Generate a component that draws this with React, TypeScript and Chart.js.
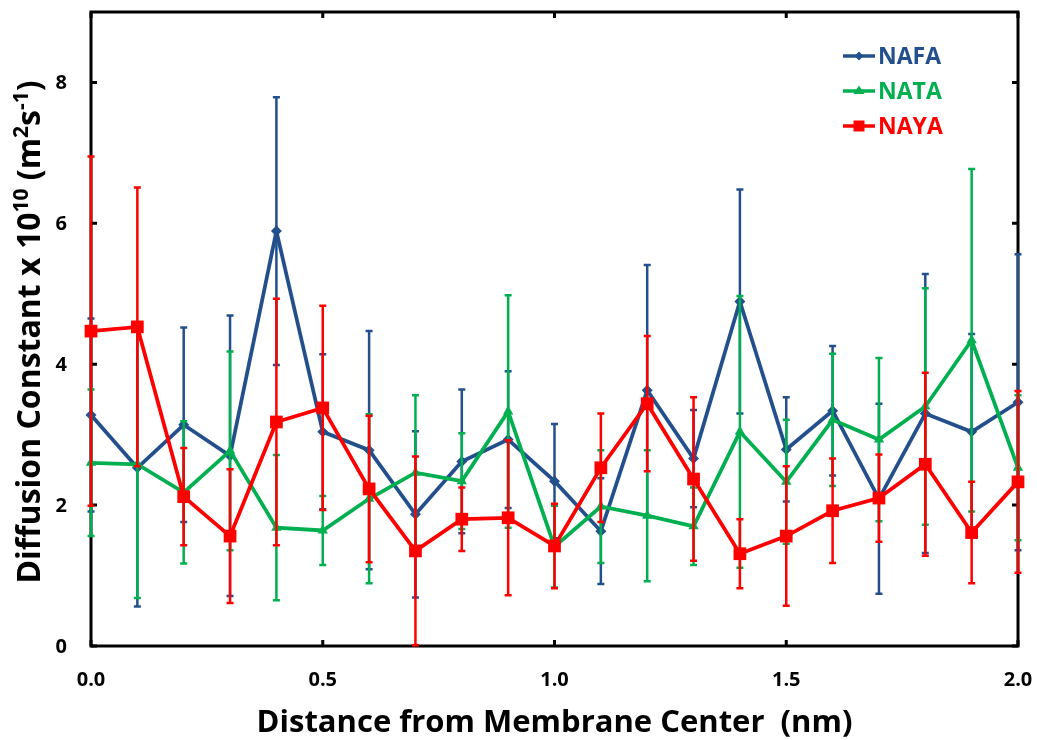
import { useEffect, useRef } from "react";
import { Chart, registerables } from "chart.js";

Chart.register(...registerables);

const distances = [0, 0.1, 0.2, 0.3, 0.4, 0.5, 0.6, 0.7, 0.8, 0.9, 1.0, 1.1, 1.2, 1.3, 1.4, 1.5, 1.6, 1.7, 1.8, 1.9, 2.0];

const nafa = [3.28, 2.53, 3.14, 2.70, 5.89, 3.04, 2.78, 1.87, 2.62, 2.93, 2.34, 1.63, 3.63, 2.66, 4.89, 2.79, 3.34, 2.09, 3.30, 3.04, 3.46];
const nafaErr = [1.37, 1.97, 1.38, 1.99, 1.90, 1.10, 1.69, 1.18, 1.02, 0.97, 0.81, 0.75, 1.78, 0.69, 1.59, 0.74, 0.92, 1.35, 1.98, 1.39, 2.10];

const nata = [2.60, 2.58, 2.18, 2.77, 1.68, 1.64, 2.09, 2.46, 2.34, 3.33, 1.41, 1.98, 1.85, 1.70, 3.04, 2.33, 3.21, 2.93, 3.40, 4.34, 2.53];
const nataErr = [1.04, 1.90, 1.01, 1.41, 1.03, 0.49, 1.20, 1.10, 0.68, 1.65, 0.58, 0.80, 0.93, 0.55, 1.93, 0.88, 0.94, 1.16, 1.68, 2.43, 1.03];

const naya = [4.47, 4.53, 2.12, 1.56, 3.18, 3.38, 2.23, 1.35, 1.80, 1.82, 1.42, 2.53, 3.44, 2.37, 1.31, 1.56, 1.92, 2.10, 2.58, 1.61, 2.33];
const nayaErr = [2.48, 1.98, 0.69, 0.95, 1.75, 1.45, 1.04, 1.34, 0.45, 1.10, 0.60, 0.77, 0.96, 1.16, 0.49, 0.99, 0.74, 0.62, 1.30, 0.72, 1.29];

const seriesNames = ["NAFA", "NATA", "NAYA"];
const xTicks = [0, 0.5, 1.0, 1.5, 2.0];
const yTicks = [0, 2, 4, 6, 8];
const xTickLabels = ["0.0", "0.5", "1.0", "1.5", "2.0"];
const yTickLabels = ["0", "2", "4", "6", "8"];
const xRange = [0, 2];
const yRange = [0, 9];

const xTitle = "Distance from Membrane Center  (nm)";
const yTitleParts: [string, boolean][] = [
  ["Diffusion Constant x 10", false],
  ["10", true],
  [" (m", false],
  ["2", true],
  ["s", false],
  ["-1", true],
  [")", false],
];

const BLUE = "#23508C";
const GREEN = "#00B050";
const RED = "#FF0000";
const FONT = "'Open Sans'";

const toPoints = (ys: number[]) => ys.map((y, i) => ({ x: distances[i], y }));

const errorBarPlugin = {
  id: "errorBars",
  beforeDatasetDraw(chart: any, args: any) {
    const ds = chart.data.datasets[args.index];
    const errs: number[] | undefined = ds.errors;
    if (!errs) return;
    const xs = chart.scales.x;
    const ys = chart.scales.y;
    const ctx = chart.ctx;
    ctx.save();
    ctx.strokeStyle = ds.borderColor;
    ctx.lineWidth = 2.5;
    const cap = 3.5;
    ds.data.forEach((p: any, i: number) => {
      const px = xs.getPixelForValue(p.x);
      const top = ys.getPixelForValue(p.y + errs[i]);
      const bot = ys.getPixelForValue(Math.max(0, p.y - errs[i]));
      ctx.beginPath();
      ctx.moveTo(px, top);
      ctx.lineTo(px, bot);
      ctx.moveTo(px - cap, top);
      ctx.lineTo(px + cap, top);
      ctx.moveTo(px - cap, bot);
      ctx.lineTo(px + cap, bot);
      ctx.stroke();
    });
    ctx.restore();
  },
};

const framePlugin = {
  id: "frame",
  beforeDatasetsDraw(chart: any) {
    const { ctx, chartArea: a } = chart;
    const xs = chart.scales.x;
    const ys = chart.scales.y;
    ctx.save();
    ctx.strokeStyle = "#000";
    ctx.lineWidth = 3;
    ctx.strokeRect(a.left, a.top, a.right - a.left, a.bottom - a.top);
    const tl = 6;
    ctx.beginPath();
    xTicks.forEach((v) => {
      const px = xs.getPixelForValue(v);
      ctx.moveTo(px, a.bottom);
      ctx.lineTo(px, a.bottom - tl);
      ctx.moveTo(px, a.top);
      ctx.lineTo(px, a.top + tl);
    });
    yTicks.forEach((v) => {
      const py = ys.getPixelForValue(v);
      ctx.moveTo(a.left, py);
      ctx.lineTo(a.left + tl, py);
      ctx.moveTo(a.right, py);
      ctx.lineTo(a.right - tl, py);
    });
    ctx.stroke();

    // tick labels
    ctx.fillStyle = "#000";
    ctx.font = `bold 20px ${FONT}`;
    ctx.textAlign = "center";
    ctx.textBaseline = "middle";
    xTicks.forEach((v, i) => {
      ctx.fillText(xTickLabels[i], xs.getPixelForValue(v), a.bottom + 34);
    });
    ctx.textAlign = "right";
    yTicks.forEach((v, i) => {
      ctx.fillText(yTickLabels[i], a.left - 24, ys.getPixelForValue(v) + 1);
    });
    ctx.restore();
  },
};

const annotPlugin = {
  id: "annot",
  afterDraw(chart: any) {
    const { ctx, chartArea: a } = chart;
    ctx.save();
    // x title
    ctx.fillStyle = "#000";
    ctx.font = `bold 31px ${FONT}`;
    ctx.textAlign = "center";
    ctx.textBaseline = "alphabetic";
    ctx.fillText(xTitle, (a.left + a.right) / 2, a.bottom + 86);

    // y title with superscripts
    const mainSize = 32;
    const supSize = 21;
    let total = 0;
    yTitleParts.forEach(([t, sup]) => {
      ctx.font = `bold ${sup ? supSize : mainSize}px ${FONT}`;
      total += ctx.measureText(t).width;
    });
    ctx.translate(a.left - 51, (a.top + a.bottom) / 2 + 3);
    ctx.rotate(-Math.PI / 2);
    let x = -total / 2;
    ctx.textAlign = "left";
    yTitleParts.forEach(([t, sup]) => {
      ctx.font = `bold ${sup ? supSize : mainSize}px ${FONT}`;
      ctx.fillText(t, x, sup ? -12 : 0);
      x += ctx.measureText(t).width;
    });
    ctx.restore();

    // legend
    ctx.save();
    const lx = a.left + 752;
    const ly = a.top + 44;
    const gap = 35;
    chart.data.datasets.forEach((ds: any, i: number) => {
      const y = ly + i * gap;
      ctx.strokeStyle = ds.borderColor;
      ctx.lineWidth = 3.5;
      ctx.beginPath();
      ctx.moveTo(lx, y);
      ctx.lineTo(lx + 32, y);
      ctx.stroke();
      ctx.fillStyle = ds.borderColor;
      ctx.beginPath();
      if (ds.pointStyle === "rectRot") {
        const r = 4.5;
        ctx.moveTo(lx + 16 - r, y);
        ctx.lineTo(lx + 16, y - r);
        ctx.lineTo(lx + 16 + r, y);
        ctx.lineTo(lx + 16, y + r);
      } else if (ds.pointStyle === "triangle") {
        ctx.moveTo(lx + 16 - 5.5, y + 3);
        ctx.lineTo(lx + 16, y - 5.5);
        ctx.lineTo(lx + 16 + 5.5, y + 3);
      } else {
        ctx.rect(lx + 16 - 5.5, y - 5.5, 11, 11);
      }
      ctx.closePath();
      ctx.fill();
      ctx.font = `bold 23px ${FONT}`;
      ctx.textAlign = "left";
      ctx.textBaseline = "middle";
      ctx.fillText(ds.label, lx + 35, y + 1);
    });
    ctx.restore();
  },
};

export default function App() {
  const canvasRef = useRef<HTMLCanvasElement | null>(null);

  useEffect(() => {
    document.body.style.margin = "0";
    const canvas = canvasRef.current;
    if (!canvas) return;
    const chart = new Chart(canvas, {
      type: "line",
      data: {
        datasets: [
          {
            label: seriesNames[0],
            data: toPoints(nafa),
            errors: nafaErr,
            borderColor: BLUE,
            backgroundColor: BLUE,
            pointStyle: "rectRot",
            pointRadius: 5.5,
            borderWidth: 3.75,
            pointBorderWidth: 0,
            order: 3,
          } as any,
          {
            label: seriesNames[1],
            data: toPoints(nata),
            errors: nataErr,
            borderColor: GREEN,
            backgroundColor: GREEN,
            pointStyle: "triangle",
            pointRadius: 6,
            borderWidth: 3.75,
            pointBorderWidth: 0,
            order: 2,
          } as any,
          {
            label: seriesNames[2],
            data: toPoints(naya),
            errors: nayaErr,
            borderColor: RED,
            backgroundColor: RED,
            pointStyle: "rect",
            pointRadius: 9,
            borderWidth: 3.75,
            pointBorderWidth: 0,
            order: 1,
          } as any,
        ],
      },
      options: {
        animation: false,
        responsive: false,
        clip: false as any,
        layout: { padding: { top: 12, right: 19, left: 0, bottom: 0 } },
        plugins: {
          legend: { display: false },
          tooltip: { enabled: false },
        },
        scales: {
          x: {
            type: "linear",
            min: xRange[0],
            max: xRange[1],
            grid: { display: false, drawTicks: false },
            border: { display: false },
            ticks: { display: false },
            afterFit: (s: any) => {
              s.height = 94;
            },
          },
          y: {
            type: "linear",
            min: yRange[0],
            max: yRange[1],
            grid: { display: false, drawTicks: false },
            border: { display: false },
            ticks: { display: false },
            afterFit: (s: any) => {
              s.width = 91;
            },
          },
        },
      },
      plugins: [errorBarPlugin, framePlugin, annotPlugin],
    });
    return () => chart.destroy();
  }, []);

  return (
    <div style={{ width: 1037, height: 740, background: "#fff" }}>
      <canvas ref={canvasRef} width={1037} height={740} />
    </div>
  );
}
